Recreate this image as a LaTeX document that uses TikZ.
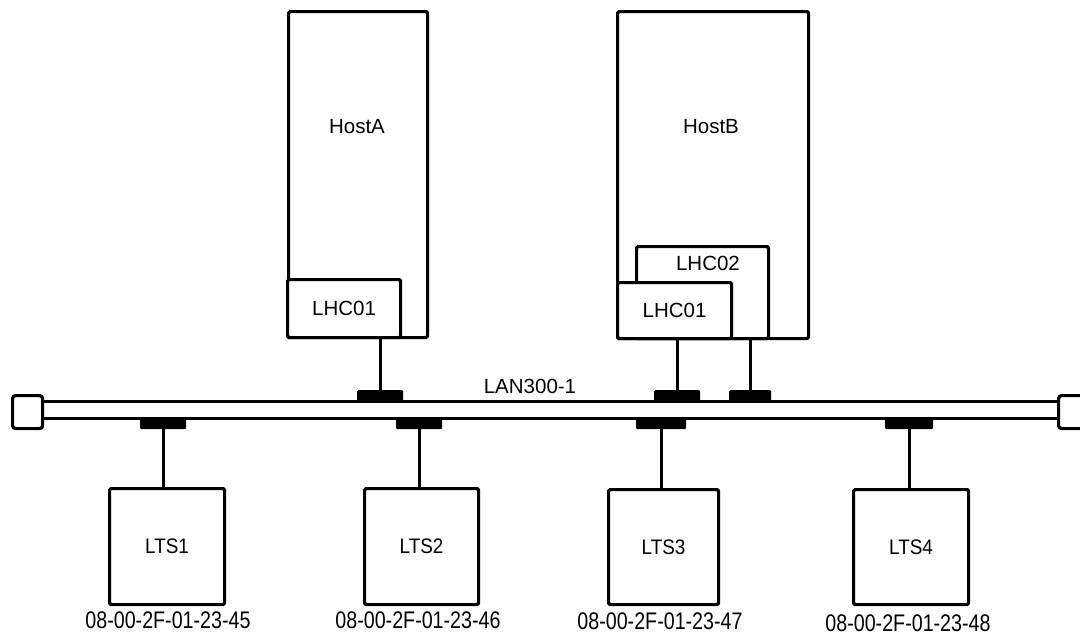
\documentclass[tikz,border=0pt]{standalone}
\usepackage{fontspec}
\setmainfont{Liberation Sans}
\newfontfamily\condfont{Liberation Sans}[FakeStretch=0.82]
\newfontfamily\ltsfont{Liberation Sans}[FakeStretch=0.9]
\begin{document}
\begin{tikzpicture}[x=1pt,y=-1pt,
  box/.style={draw,line width=3.2pt,rounded corners=1.5pt,fill=white,inner sep=0pt,anchor=north west},
  endbox/.style={draw,line width=3.2pt,rounded corners=3pt,fill=white,inner sep=0pt,anchor=north west,minimum width=30pt,minimum height=33pt},
  tapbox/.style={fill=black,rounded corners=1.2pt,inner sep=0pt,minimum height=12pt,anchor=north west},
  wire/.style={line width=2.6pt},
  cable/.style={line width=3pt},
  lbl/.style={font=\fontsize{20.5}{24}\selectfont},
  ltslbl/.style={font=\fontsize{21}{24}\ltsfont},
  addr/.style={font=\fontsize{24}{28}\condfont}]
\useasboundingbox (0,0) rectangle (1080,641);

% hosts
\node[box,minimum width=139pt,minimum height=326pt] (hostA) at (287,10) {};
\node[lbl] (hostAl) at (357,127) {HostA};
\node[box,minimum width=191pt,minimum height=327pt] (hostB) at (616,10) {};
\node[lbl] (hostBl) at (711,127) {HostB};

% host controllers
\node[box,minimum width=113pt,minimum height=58pt,lbl] (lhcA) at (286,278) {LHC01};
\node[box,minimum width=132pt,minimum height=92pt] (lhcB2) at (635,245) {};
\node[lbl] (lhcB2l) at (708,263) {LHC02};
\node[box,minimum width=114pt,minimum height=56pt,lbl] (lhcB1) at (616,281) {LHC01};

% cable
\node[endbox] (endL) at (11,394) {};
\node[endbox] (endR) at (1057,394) {};
\draw[cable] (endL.east |- 0,401) -- (endR.west |- 0,401);
\draw[cable] (endL.east |- 0,418) -- (endR.west |- 0,418);
\node[lbl] (lan) at (530,386) {LAN300-1};

% taps on top
\node[tapbox,minimum width=46pt] (tapA) at (357,390) {};
\node[tapbox,minimum width=46pt] (tapB1) at (654,390) {};
\node[tapbox,minimum width=42pt] (tapB2) at (729,390) {};
\draw[wire] (tapA.north) -- (tapA.north |- lhcA.south);
\draw[wire] (tapB1.north) -- (tapB1.north |- lhcB1.south);
\draw[wire] (tapB2.north) -- (tapB2.north |- lhcB2.south);

% taps below
\node[tapbox,minimum width=46pt] (tap1) at (140,417) {};
\node[tapbox,minimum width=46pt] (tap2) at (396,417) {};
\node[tapbox,minimum width=50pt] (tap3) at (636,417) {};
\node[tapbox,minimum width=48pt] (tap4) at (885,417) {};

% terminal servers
\node[box,minimum width=115pt,minimum height=116pt,ltslbl] (lts1) at (108,487) {LTS1};
\node[box,minimum width=114pt,minimum height=116pt,ltslbl] (lts2) at (363,487) {LTS2};
\node[box,minimum width=110pt,minimum height=115pt,ltslbl] (lts3) at (607,488) {LTS3};
\node[box,minimum width=115pt,minimum height=115pt,ltslbl] (lts4) at (852,488) {LTS4};

\draw[wire] (tap1.south) -- (tap1.south |- lts1.north);
\draw[wire] (tap2.south) -- (tap2.south |- lts2.north);
\draw[wire] (tap3.south) -- (tap3.south |- lts3.north);
\draw[wire] (tap4.south) -- (tap4.south |- lts4.north);

% addresses
\node[addr] (a1) at (168,620) {08-00-2F-01-23-45};
\node[addr] (a2) at (418,620) {08-00-2F-01-23-46};
\node[addr] (a3) at (660,621) {08-00-2F-01-23-47};
\node[addr] (a4) at (908,623) {08-00-2F-01-23-48};
\end{tikzpicture}
\end{document}
